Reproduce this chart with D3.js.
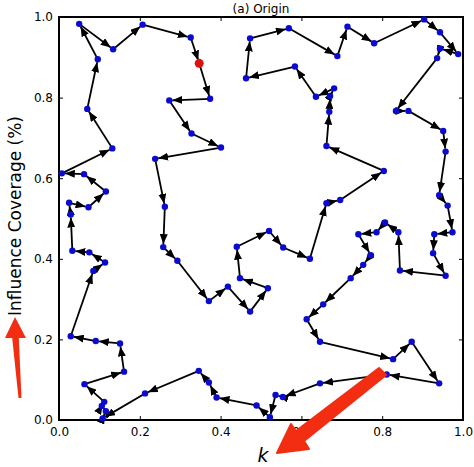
<!DOCTYPE html>
<html>
<head>
<meta charset="utf-8">
<script src="https://cdn.jsdelivr.net/npm/d3@7"></script>
<style>
  body { margin: 0; background: #fff; }
  text { font-family: "DejaVu Sans", sans-serif; }
</style>
</head>
<body>
<div id="chart"></div>
<script>
// tour through the nodes, in visiting order (first node is the start, drawn red)
const tourX = [0.347, 0.374, 0.273, 0.328, 0.401, 0.238, 0.262, 0.258, 0.293, 0.371,
               0.418, 0.473, 0.517, 0.448, 0.440, 0.520, 0.555, 0.621, 0.662, 0.696,
               0.804, 0.662, 0.669, 0.671, 0.681, 0.636, 0.584, 0.463, 0.473, 0.569,
               0.689, 0.714, 0.780, 0.904, 0.943, 0.988, 0.943, 0.936, 0.834, 0.865,
               0.951, 0.957, 0.941, 0.962, 0.974, 0.929, 0.926, 0.957, 0.844, 0.840,
               0.807, 0.786, 0.741, 0.772, 0.753, 0.722, 0.654, 0.613, 0.646, 0.827,
               0.873, 0.941, 0.811, 0.646, 0.554, 0.536, 0.522, 0.489, 0.390, 0.371,
               0.346, 0.213, 0.108, 0.116, 0.106, 0.112, 0.063, 0.161, 0.151, 0.091,
               0.029, 0.085, 0.114, 0.075, 0.033, 0.029, 0.025, 0.073, 0.116, 0.062,
               0.007, 0.132, 0.070, 0.096, 0.050, 0.134, 0.207, 0.326];
const tourY = [0.885, 0.797, 0.793, 0.711, 0.676, 0.648, 0.529, 0.429, 0.395, 0.295,
               0.331, 0.269, 0.327, 0.352, 0.430, 0.469, 0.428, 0.400, 0.538, 0.546,
               0.618, 0.680, 0.765, 0.804, 0.823, 0.802, 0.877, 0.848, 0.947, 0.972,
               0.903, 0.976, 0.935, 0.994, 0.962, 0.908, 0.922, 0.898, 0.767, 0.767,
               0.717, 0.666, 0.558, 0.532, 0.466, 0.461, 0.414, 0.358, 0.371, 0.466,
               0.490, 0.466, 0.461, 0.409, 0.385, 0.352, 0.287, 0.250, 0.194, 0.151,
               0.194, 0.091, 0.113, 0.091, 0.057, 0.062, 0.007, 0.036, 0.056, 0.093,
               0.122, 0.066, 0.004, 0.022, 0.035, 0.045, 0.089, 0.120, 0.190, 0.196,
               0.208, 0.370, 0.391, 0.416, 0.420, 0.510, 0.539, 0.528, 0.567, 0.610,
               0.612, 0.674, 0.772, 0.895, 0.983, 0.920, 0.981, 0.949];
const startIndex = 0;
const tickValues = [0, 0.2, 0.4, 0.6, 0.8, 1.0];
const titleText = "(a) Origin";
const xLabel = "k";
const yLabel = "Influence Coverage (%)";

const W = 474, H = 467;
const margin = { top: 17, left: 59, right: 11, bottom: 47 };
const width = W - margin.left - margin.right;
const height = H - margin.top - margin.bottom;

const nodes = tourX.map((x, i) => ({ x: x, y: tourY[i], i: i }));
const edges = nodes.map((d, i) => ({ s: d, t: nodes[(i + 1) % nodes.length] }));

const svg = d3.select('#chart').append('svg')
    .attr('width', W)
    .attr('height', H);

svg.append('defs').append('marker')
    .attr('id', 'head')
    .attr('markerUnits', 'userSpaceOnUse')
    .attr('markerWidth', 11)
    .attr('markerHeight', 8)
    .attr('refX', 10)
    .attr('refY', 4)
    .attr('orient', 'auto')
  .append('path')
    .attr('d', 'M0,0 L10,4 L0,8 Z')
    .attr('fill', '#000');

const g = svg.append('g')
    .attr('transform', 'translate(' + margin.left + ',' + margin.top + ')');

const x = d3.scaleLinear().domain([0, 1]).range([0, width]);
const y = d3.scaleLinear().domain([0, 1]).range([height, 0]);

// axes, ticks pointing inward
const fmt = d3.format('.1f');
g.append('g')
    .attr('transform', 'translate(0,' + height + ')')
    .call(d3.axisBottom(x).tickValues(tickValues).tickFormat(fmt).tickSize(-4).tickPadding(7));
g.append('g')
    .call(d3.axisLeft(y).tickValues(tickValues).tickFormat(fmt).tickSize(-4).tickPadding(6));
g.append('g')
    .call(d3.axisTop(x).tickValues(tickValues).tickFormat('').tickSize(-4));
g.append('g')
    .attr('transform', 'translate(' + width + ',0)')
    .call(d3.axisRight(y).tickValues(tickValues).tickFormat('').tickSize(-4));

g.selectAll('.domain').remove();
g.selectAll('.tick line').attr('stroke', '#000').attr('stroke-width', 1);
g.selectAll('.tick text').attr('font-size', 12).attr('fill', '#000')
    .attr('font-family', '"DejaVu Sans", sans-serif');

g.append('rect')
    .attr('width', width)
    .attr('height', height)
    .attr('fill', 'none')
    .attr('stroke', '#000')
    .attr('stroke-width', 2);

// tour edges with arrowheads ending at the next node
const r = 3;
g.selectAll('line.edge')
    .data(edges)
    .enter()
    .append('line')
    .attr('class', 'edge')
    .each(function(d) {
      const x1 = x(d.s.x), y1 = y(d.s.y), x2 = x(d.t.x), y2 = y(d.t.y);
      const len = Math.hypot(x2 - x1, y2 - y1) || 1;
      const k = (len - r) / len;
      d3.select(this)
        .attr('x1', x1).attr('y1', y1)
        .attr('x2', x1 + (x2 - x1) * k)
        .attr('y2', y1 + (y2 - y1) * k);
    })
    .attr('stroke', '#000')
    .attr('stroke-width', 1.8)
    .attr('marker-end', 'url(#head)');

g.selectAll('circle.node')
    .data(nodes)
    .enter()
    .append('circle')
    .attr('class', 'node')
    .attr('cx', d => x(d.x))
    .attr('cy', d => y(d.y))
    .attr('r', d => d.i === startIndex ? 4.5 : 3.2)
    .attr('fill', d => d.i === startIndex ? '#e01010' : '#0b0bd0');

// labels
svg.append('text')
    .attr('x', margin.left + width / 2)
    .attr('y', 13)
    .attr('text-anchor', 'middle')
    .attr('font-size', 12)
    .text(titleText);

svg.append('text')
    .attr('x', 263)
    .attr('y', 462)
    .attr('text-anchor', 'middle')
    .attr('font-size', 19)
    .attr('font-style', 'italic')
    .text(xLabel);

svg.append('text')
    .attr('transform', 'translate(15,' + (margin.top + 199) + ') rotate(-90)')
    .attr('text-anchor', 'middle')
    .attr('dominant-baseline', 'central')
    .attr('font-size', 17)
    .text(yLabel);

// red annotation arrows drawn over the figure
const red = '#f32d12';
svg.append('path')
    .attr('d', 'M18.5,398 L21.5,398 L18.8,338 L26,338 L15,317 L5,338 L12.2,338 Z')
    .attr('fill', red);
svg.append('path')
    .attr('d', 'M379,368 L386,375 L304,441 L309,449 L277,453 L291,424 L296,431 Z')
    .attr('fill', red)
    .attr('stroke', red)
    .attr('stroke-linejoin', 'round')
    .attr('stroke-width', 2);
</script>
</body>
</html>
